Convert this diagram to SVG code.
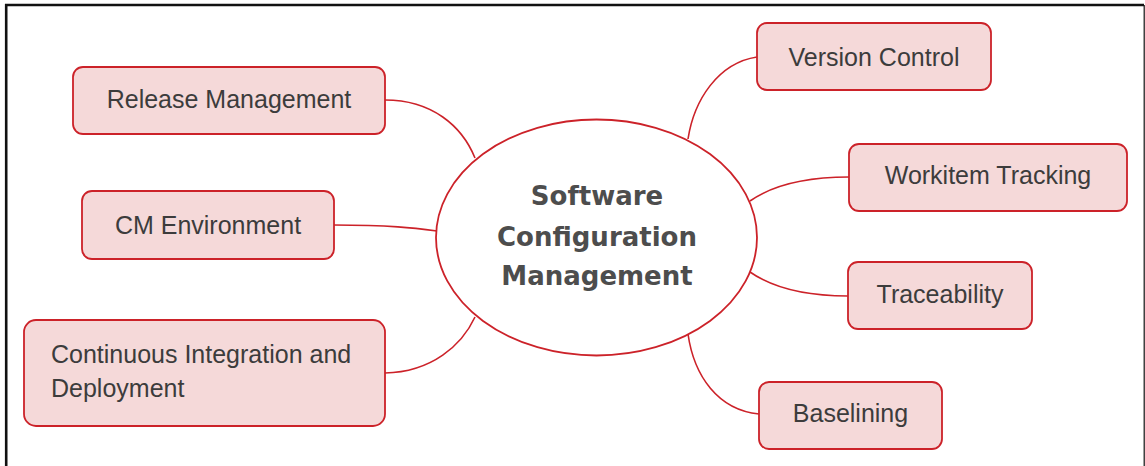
<svg xmlns="http://www.w3.org/2000/svg" width="1145" height="466" viewBox="0 0 1145 466">
  <style>
    .box { fill: #f5d9d9; stroke: #cc2229; stroke-width: 1.8; }
    .hub { fill: #ffffff; stroke: #cc2229; stroke-width: 1.8; }
    .link { fill: none; stroke: #cc2229; stroke-width: 1.6; }
    .label { font-family: "Liberation Sans", Arial, sans-serif; font-size: 25px; fill: #3c3c3c; text-anchor: middle; }
    .title { font-family: "DejaVu Sans", sans-serif; font-weight: bold; font-size: 26px; fill: #4d4d4d; text-anchor: middle; }
  </style>

  <!-- page frame -->
  <rect x="0" y="0" width="1145" height="466" fill="#ffffff"/>
  <path d="M6.2,466 V5 H1144" fill="none" stroke="#111111" stroke-width="2.6"/>
  <line x1="1144.2" y1="5" x2="1144.2" y2="466" stroke="#111111" stroke-width="1.2"/>

  <!-- connectors -->
  <g id="connectors">
    <path class="link" d="M385,100 C432,100 462,126 475,158"/>
    <path class="link" d="M334,225 C390,225 414,228 437,231"/>
    <path class="link" d="M385,373 C432,372 462,345 475,317"/>
    <path class="link" d="M757,57 C718,63 694,100 688,139"/>
    <path class="link" d="M849,177 C800,177 770,187 750,201"/>
    <path class="link" d="M848,296 C800,296 770,286 750,272"/>
    <path class="link" d="M759,414 C718,410 694,376 688,334"/>
  </g>

  <!-- central topic -->
  <g id="scm">
    <ellipse class="hub" cx="596.5" cy="237.5" rx="160.5" ry="118"/>
    <text class="title" x="597" y="205">Software</text>
    <text class="title" x="597" y="246">Configuration</text>
    <text class="title" x="597" y="285">Management</text>
  </g>

  <!-- left branches -->
  <g id="release-management">
    <rect class="box" x="73" y="67" width="312" height="67" rx="10"/>
    <text class="label" x="229" y="108">Release Management</text>
  </g>
  <g id="cm-environment">
    <rect class="box" x="82" y="191" width="252" height="68" rx="10"/>
    <text class="label" x="208" y="234">CM Environment</text>
  </g>
  <g id="ci-deployment">
    <rect class="box" x="24" y="320" width="361" height="106" rx="12"/>
    <text class="label" x="51" y="363" style="text-anchor:start">Continuous Integration and</text>
    <text class="label" x="51" y="397" style="text-anchor:start">Deployment</text>
  </g>

  <!-- right branches -->
  <g id="version-control">
    <rect class="box" x="757" y="23" width="234" height="67" rx="10"/>
    <text class="label" x="874" y="66">Version Control</text>
  </g>
  <g id="workitem-tracking">
    <rect class="box" x="849" y="144" width="278" height="67" rx="10"/>
    <text class="label" x="988" y="184">Workitem Tracking</text>
  </g>
  <g id="traceability">
    <rect class="box" x="848" y="262" width="184" height="67" rx="10"/>
    <text class="label" x="940" y="303">Traceability</text>
  </g>
  <g id="baselining">
    <rect class="box" x="759" y="382" width="183" height="67" rx="10"/>
    <text class="label" x="850.5" y="422">Baselining</text>
  </g>
</svg>
